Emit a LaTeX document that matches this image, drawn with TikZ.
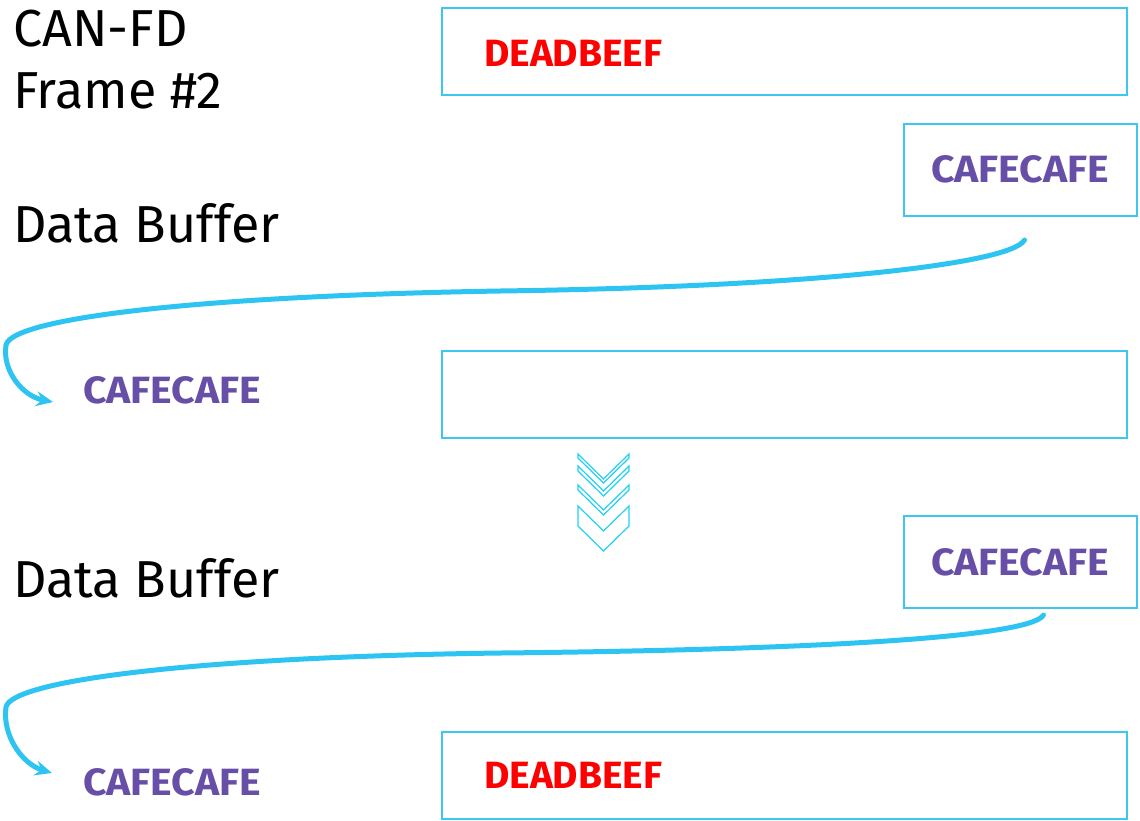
\documentclass[tikz,border=0pt]{standalone}
\usepackage{fontspec}
\setmainfont{Fira Sans}
\usetikzlibrary{arrows.meta}
\definecolor{boxcyan}{HTML}{3CC6F0}
\definecolor{flowcyan}{HTML}{2EC4F2}
\definecolor{chevcyan}{HTML}{22D0F2}
\definecolor{cafe}{HTML}{674EA7}
\definecolor{beef}{HTML}{FF0000}
% hex words are set to a common width
\newcommand\hexword[1]{\resizebox{178pt}{\height}{#1}}
\begin{document}
\begin{tikzpicture}[x=1pt,y=-1pt,
  reg/.style={draw=boxcyan, line width=2pt, inner sep=0pt, anchor=north west},
  wide/.style={reg, minimum width=685pt, minimum height=87pt},
  narrow/.style={reg, minimum width=233pt, minimum height=92pt},
  heading/.style={font=\fontsize{52}{61}\selectfont, anchor=base west, inner sep=0pt},
  word/.style={font=\fontsize{38}{38}\selectfont\bfseries, anchor=base west, inner sep=0pt},
  flow/.style={draw=flowcyan, line width=5pt, line cap=round,
    -{Stealth[length=17pt,width=15pt,inset=6pt]}},
  chev/.style={draw=chevcyan, line width=1.2pt, fill=white, line join=miter}]
\useasboundingbox (0,0) rectangle (1140,820);

% headings on the left
\node[heading] (can)  at (13,46)  {CAN-FD};
\node[heading] (frm)  at (13,108) {Frame \#2};
\node[heading] (buf1) at (13,242) {Data Buffer};
\node[heading] (buf2) at (13,597) {Data Buffer};

% register rows
\node[wide]   (r1) at (441,7)   {};
\node[narrow] (c1) at (903,123) {};
\node[wide]   (r2) at (441,350) {};
\node[narrow] (c2) at (903,515) {};
\node[wide]   (r3) at (441,731) {};

% data words
\node[word, text=beef] (d1) at (484,66)  {\hexword{DEADBEEF}};
\node[word, text=cafe] (w1) at (931,182) {\hexword{CAFECAFE}};
\node[word, text=cafe] (l1) at (83,403)  {\hexword{CAFECAFE}};
\node[word, text=cafe] (w2) at (931,575) {\hexword{CAFECAFE}};
\node[word, text=cafe] (l2) at (83,795)  {\hexword{CAFECAFE}};
\node[word, text=beef] (d2) at (484,788) {\hexword{DEADBEEF}};

% shift arrows
\coordinate (s1) at ([xshift=4pt,yshift=-23pt]c1.south);
\coordinate (e1) at ([xshift=-30pt,yshift=1pt]l1.base west);
\draw[flow] (s1) .. controls (1010,265) and (800,287) .. (500,291)
  .. controls (200,296) and (12,318) .. (6,345)
  .. controls (2,370) and (22,396) .. (e1);
\coordinate (s2) at ([xshift=23pt,yshift=-6pt]c2.south);
\coordinate (e2) at ([xshift=-31pt,yshift=22pt]l2.base west);
\draw[flow] (s2) .. controls (1030,638) and (800,650) .. (500,653)
  .. controls (200,657) and (12,680) .. (6,707)
  .. controls (2,735) and (22,764) .. (e2);

% downward chevrons
\foreach \y/\t in {454/4,466/5,485/5,506/20}
  \draw[chev] (578,\y) -- (603.5,\y+25) -- (629,\y) -- (629,\y+\t)
    -- (603.5,\y+25+\t) -- (578,\y+\t) -- cycle;
\end{tikzpicture}
\end{document}
